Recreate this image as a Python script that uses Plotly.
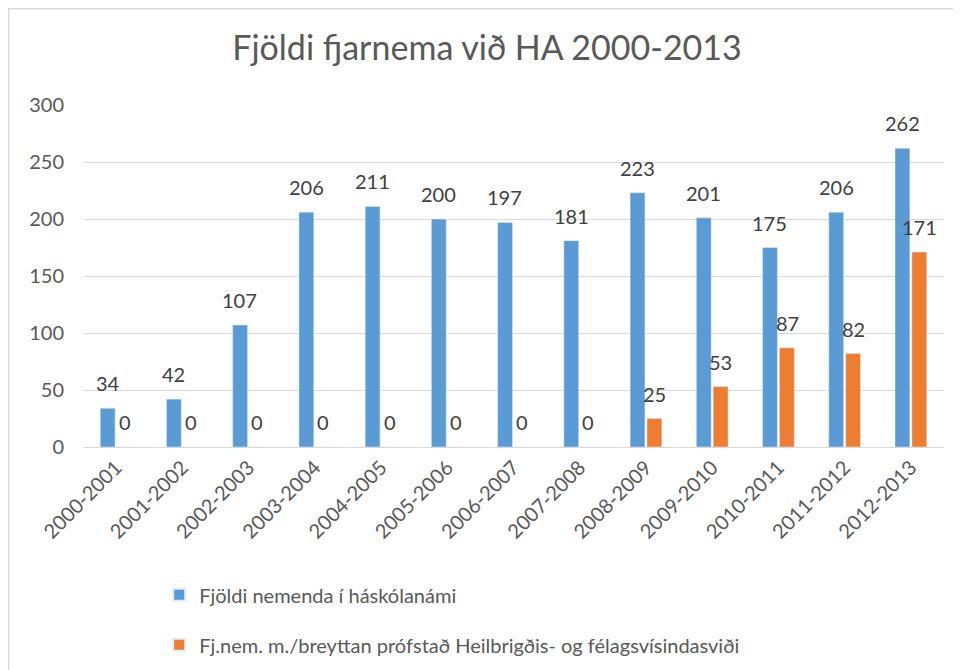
import plotly.graph_objects as go

categories = ["2000-2001", "2001-2002", "2002-2003", "2003-2004", "2004-2005", "2005-2006",
              "2006-2007", "2007-2008", "2008-2009", "2009-2010", "2010-2011", "2011-2012", "2012-2013"]
students = [34, 42, 107, 206, 211, 200, 197, 181, 223, 201, 175, 206, 262]
changed = [0, 0, 0, 0, 0, 0, 0, 0, 25, 53, 87, 82, 171]
name_students = "Fjöldi nemenda í háskólanámi"
name_changed = "Fj.nem. m./breyttan prófstað Heilbrigðis- og félagsvísindasviði"
title = "Fjöldi fjarnema við HA 2000-2013"

FONT = "Lato"
W, H = 961, 670
L, T, PW, PH = 75, 97, 861, 342

fig = go.Figure()
fig.add_trace(go.Bar(x=categories, y=students, name=name_students, marker_color="#5b9bd5",
                     legendgroup="a"))
fig.add_trace(go.Bar(x=categories, y=changed, name=name_changed, marker_color="#ed7d31",
                     legendgroup="b"))

# data labels placed at each bar's value
for vals, dx in ((students, -8.6), (changed, 8.6)):
    for c, v in zip(categories, vals):
        fig.add_annotation(x=c, y=v, xref="x", yref="y", text=str(v), showarrow=False,
                           xanchor="center", yanchor="bottom", xshift=dx, yshift=11,
                           font=dict(size=20, color="#404040", family=FONT))

fig.update_layout(
    width=W, height=H,
    paper_bgcolor="white", plot_bgcolor="white",
    margin=dict(l=L, r=W - L - PW, t=T, b=H - T - PH, autoexpand=False),
    font=dict(family=FONT, color="#595959", size=20),
    title=dict(text=title, x=479 / W, xanchor="center", y=1 - 40 / H, yanchor="middle",
               font=dict(size=34, color="#595959", family=FONT)),
    barmode="group", bargap=0.49, bargroupgap=0.12,
    showlegend=True,
    legend=dict(orientation="v", x=0.0885, xanchor="left", y=-0.375, yanchor="top",
                font=dict(size=20, color="#595959", family=FONT), tracegroupgap=21,
                itemsizing="constant"),
)
fig.update_yaxes(range=[0, 300], dtick=50, showgrid=True, gridcolor="#d9d9d9", gridwidth=1,
                 zeroline=False, showline=False, ticks="", ticklabelstandoff=18,
                 tickfont=dict(size=20, color="#595959"), automargin=False)
fig.update_xaxes(showline=True, linecolor="#d9d9d9", linewidth=1, tickangle=-45, ticks="",
                 tickfont=dict(size=20, color="#595959"), automargin=False)
# chart-area border (left and top edges visible)
fig.add_shape(type="line", xref="paper", yref="paper",
              x0=-(L - 0.5) / PW, x1=-(L - 0.5) / PW, y0=-(H - T - PH) / PH, y1=1 + T / PH,
              line=dict(color="#d9d9d9", width=2))
fig.add_shape(type="line", xref="paper", yref="paper",
              x0=-L / PW, x1=(W - L) / PW, y0=1 + (T - 0.5) / PH, y1=1 + (T - 0.5) / PH,
              line=dict(color="#d9d9d9", width=2))

fig.write_html("out.html")
